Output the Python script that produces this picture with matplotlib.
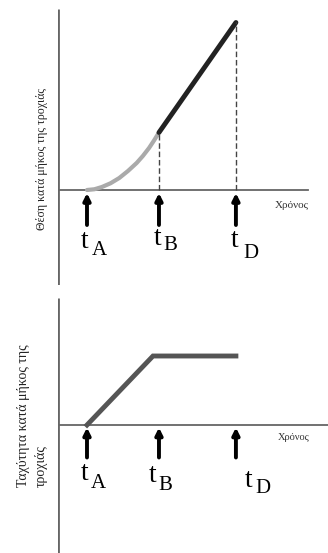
import matplotlib
matplotlib.use('Agg')
import matplotlib.pyplot as plt

plt.rcParams['font.family'] = ['Liberation Serif', 'DejaVu Serif']

# times on the horizontal axis
t_A, t_B, t_D = 1.0, 3.9, 7.0
t_labels = ['A', 'B', 'D']

# position vs time: curved (accelerating) part, then straight part
curve_t = [1.0, 1.3, 1.6, 1.95, 2.3, 2.65, 3.0, 3.25, 3.5, 3.7, 3.9]
curve_s = [0.0, 0.03, 0.12, 0.27, 0.48, 0.76, 1.08, 1.36, 1.68, 1.98, 2.3]
line_t = [3.9, 7.0]
line_s = [2.3, 6.7]

# velocity vs time
vel_t = [1.0, 3.66, 7.0]
vel_v = [0.0, 2.76, 2.76]

pos_label = 'Θέση κατά μήκος της τροχιάς'
vel_label_1 = 'Ταχύτητα κατά μήκος της'
vel_label_2 = 'τροχιάς'
x_label = 'Χρόνος'

W, H = 328, 553
fig = plt.figure(figsize=(W / 100, H / 100), dpi=100)

def fx(px):
  return px / W

def fy(py):
  return 1 - py / H

axis_col = '#666666'
arrow = dict(arrowstyle='-|>,head_length=0.4,head_width=0.2',
             color='black', lw=2.8, shrinkA=0, shrinkB=0)

# ---- top panel: position
ax1 = fig.add_axes([fx(58), fy(285), fx(W - 58), (285 - 9) / H])
ax1.set_xlim(-0.168, 10.71)
ax1.set_ylim(-3.8, 7.24)
ax1.axis('off')
ax1.plot([-0.168, -0.168], [-3.8, 7.24], color=axis_col, lw=2, solid_capstyle='butt')
ax1.plot([-0.168, 9.9], [0, 0], color=axis_col, lw=1.3)
ax1.plot(curve_t, curve_s, color='#aaaaaa', lw=3, solid_capstyle='round')
ax1.plot(line_t, line_s, color='#222222', lw=3.5, solid_capstyle='round')
ax1.plot([t_B, t_B], [0, curve_s[-1]], color='#444444', lw=1, ls=(0, (4, 2)))
ax1.plot([t_D, t_D], [0, line_s[-1]], color='#444444', lw=1, ls=(0, (4, 2)))
for t in [t_A, t_B, t_D]:
  ax1.annotate('', xy=(t, -0.12), xytext=(t, -1.4), arrowprops=arrow)
ax1.text(9.95, -0.6, x_label, fontsize=8, ha='right', va='center', color='#333333')

# ---- bottom panel: velocity
ax2 = fig.add_axes([fx(58), 0, fx(W - 58), (553 - 298) / H])
ax2.set_xlim(-0.168, 10.71)
ax2.set_ylim(-5.12, 5.08)
ax2.axis('off')
ax2.plot([-0.168, -0.168], [-5.12, 5.08], color=axis_col, lw=2, solid_capstyle='butt')
ax2.plot([-0.168, 10.71], [0, 0], color=axis_col, lw=1.3)
ax2.plot(vel_t, vel_v, color='#555555', lw=3.5, solid_joinstyle='miter')
for t in [t_A, t_B, t_D]:
  ax2.annotate('', xy=(t, -0.1), xytext=(t, -1.3), arrowprops=arrow)
ax2.text(9.95, -0.52, x_label, fontsize=7.5, ha='right', va='center', color='#333333')

# t labels (pixel anchors of "t" and subscript)
top_pos = [(81, 248, 92, 255), (154, 245, 163, 250), (231, 247, 243, 258)]
bot_pos = [(81, 480, 91, 488), (149, 482, 158, 490), (245, 487, 255, 493)]
for (tx, ty, sx, sy), lab in zip(top_pos + bot_pos, t_labels + t_labels):
  fig.text(fx(tx), fy(ty), 't', fontsize=20, ha='left', va='baseline')
  fig.text(fx(sx), fy(sy), lab, fontsize=15, ha='left', va='baseline')

# y labels
fig.text(fx(42), fy(159), pos_label, rotation=90, fontsize=8.5,
         ha='center', va='center', color='#222222')
fig.text(fx(24), fy(487), vel_label_1, rotation=90, fontsize=10,
         ha='center', va='bottom', color='#222222')
fig.text(fx(41), fy(487), vel_label_2, rotation=90, fontsize=10,
         ha='center', va='bottom', color='#222222')

fig.savefig('out.png', dpi=100)
